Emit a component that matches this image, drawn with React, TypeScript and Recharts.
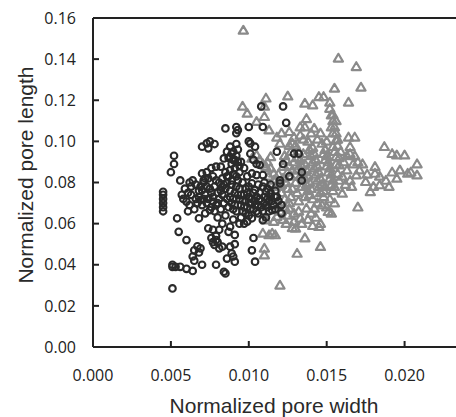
import React from 'react';
import { ScatterChart, Scatter, XAxis, YAxis, ReferenceLine, Label } from 'recharts';

// [normalized width, normalized length]
const circlePores: [number, number][] = [
  [0.0045, 0.0755], [0.0045, 0.074], [0.0045, 0.072], [0.0045, 0.070], [0.0045, 0.068], [0.0045, 0.066],
  [0.0052, 0.093], [0.0052, 0.089], [0.0050, 0.085],
  [0.0051, 0.0285], [0.0051, 0.039], [0.0051, 0.040], [0.0053, 0.039], [0.0056, 0.039], [0.0060, 0.038], [0.0064, 0.037], [0.0070, 0.040],
  [0.0054, 0.0626], [0.0055, 0.056], [0.0060, 0.052],
  [0.0056, 0.081], [0.0057, 0.074], [0.0060, 0.0707], [0.0061, 0.066], [0.0062, 0.080], [0.0063, 0.078],
  [0.0064, 0.044], [0.0065, 0.047], [0.0065, 0.042], [0.0069, 0.048],
  [0.0065, 0.067], [0.0068, 0.0626], [0.0069, 0.0715], [0.0070, 0.0763], [0.0070, 0.0844], [0.0071, 0.081],
  [0.0070, 0.0974], [0.0073, 0.099], [0.0074, 0.0966], [0.0075, 0.100], [0.0078, 0.0987], [0.0073, 0.085],
  [0.0076, 0.087], [0.0073, 0.078], [0.0076, 0.075], [0.0077, 0.0707], [0.0075, 0.0666], [0.0074, 0.0577],
  [0.0077, 0.057], [0.0076, 0.053], [0.0077, 0.051], [0.0078, 0.0496], [0.0079, 0.040], [0.0081, 0.048],
  [0.0083, 0.0488], [0.0084, 0.0366], [0.0085, 0.0358], [0.0086, 0.043], [0.0088, 0.0488], [0.0089, 0.0455],
  [0.0090, 0.044], [0.0091, 0.0415], [0.0088, 0.0585], [0.0087, 0.056], [0.0091, 0.0545], [0.0091, 0.050],
  [0.0085, 0.1063], [0.0092, 0.107], [0.0093, 0.1055], [0.0092, 0.104], [0.0092, 0.0987], [0.0088, 0.0974],
  [0.0086, 0.095], [0.0088, 0.0925], [0.0090, 0.091], [0.0084, 0.0917], [0.0082, 0.0877], [0.0079, 0.0877],
  [0.0100, 0.107], [0.0108, 0.117], [0.0109, 0.107], [0.0100, 0.100], [0.0101, 0.099], [0.0104, 0.0974],
  [0.0101, 0.094], [0.0103, 0.091], [0.0105, 0.089], [0.0107, 0.0885], [0.0102, 0.0844], [0.0105, 0.0836],
  [0.0109, 0.0836], [0.0102, 0.0796], [0.0104, 0.0763], [0.0109, 0.078], [0.0111, 0.0755], [0.0114, 0.073],
  [0.0122, 0.117], [0.0124, 0.109], [0.0118, 0.095], [0.0122, 0.089], [0.0129, 0.094], [0.0132, 0.094],
  [0.0126, 0.083], [0.0134, 0.085], [0.0134, 0.081], [0.0120, 0.081], [0.0120, 0.0796], [0.0121, 0.065],
  [0.0121, 0.069], [0.0118, 0.073],
  [0.0103, 0.053], [0.0102, 0.047], [0.0104, 0.0415], [0.0109, 0.0617], [0.0111, 0.063], [0.0115, 0.0666],
  [0.0099, 0.061], [0.0097, 0.060], [0.0102, 0.0626],
  [0.0066, 0.079], [0.0068, 0.076], [0.0072, 0.074], [0.0074, 0.072], [0.0078, 0.078], [0.0080, 0.075],
  [0.0081, 0.072], [0.0079, 0.069], [0.0082, 0.067], [0.0084, 0.070], [0.0083, 0.074], [0.0085, 0.077],
  [0.0086, 0.080], [0.0087, 0.083], [0.0088, 0.073], [0.0089, 0.070], [0.0090, 0.067], [0.0091, 0.075],
  [0.0092, 0.078], [0.0093, 0.081], [0.0094, 0.072], [0.0095, 0.069], [0.0096, 0.066], [0.0097, 0.074],
  [0.0098, 0.071], [0.0099, 0.068], [0.0100, 0.073], [0.0101, 0.070], [0.0103, 0.067], [0.0104, 0.071],
  [0.0106, 0.069], [0.0107, 0.072], [0.0108, 0.068], [0.0110, 0.070], [0.0112, 0.068], [0.0113, 0.071],
  [0.0116, 0.069], [0.0106, 0.065], [0.0095, 0.063], [0.0085, 0.064], [0.0080, 0.063], [0.0072, 0.065],
  [0.0070, 0.069], [0.0066, 0.072], [0.0063, 0.074], [0.0059, 0.077], [0.0058, 0.072], [0.0062, 0.069],
  [0.0088, 0.086], [0.0089, 0.089], [0.0090, 0.084], [0.0091, 0.087], [0.0092, 0.093], [0.0093, 0.090],
  [0.0094, 0.085], [0.0087, 0.092], [0.0090, 0.095], [0.0086, 0.083],
  [0.0096, 0.080], [0.0098, 0.077], [0.0099, 0.083], [0.0097, 0.087], [0.0095, 0.090], [0.0106, 0.079],
  [0.0110, 0.080], [0.0112, 0.077], [0.0114, 0.079], [0.0117, 0.076], [0.0119, 0.071], [0.0117, 0.067],
  [0.0100, 0.064], [0.0094, 0.060], [0.0090, 0.062], [0.0083, 0.060], [0.0081, 0.057], [0.0079, 0.054],
  [0.0080, 0.051], [0.0079, 0.052], [0.0068, 0.046], [0.0067, 0.049], [0.0071, 0.080], [0.0074, 0.082],
  [0.0077, 0.083], [0.0064, 0.081], [0.0061, 0.075],
  [0.0076, 0.068], [0.0078, 0.066], [0.0080, 0.070], [0.0082, 0.076], [0.0084, 0.079], [0.0086, 0.072],
  [0.0087, 0.068], [0.0088, 0.076], [0.0089, 0.079], [0.0090, 0.072], [0.0091, 0.069], [0.0092, 0.066],
  [0.0093, 0.074], [0.0094, 0.077], [0.0095, 0.074], [0.0096, 0.071], [0.0097, 0.068], [0.0098, 0.065],
  [0.0099, 0.075], [0.0100, 0.078], [0.0101, 0.067], [0.0102, 0.072], [0.0103, 0.075], [0.0104, 0.069],
  [0.0105, 0.073], [0.0105, 0.066], [0.0107, 0.075], [0.0108, 0.071], [0.0109, 0.066], [0.0110, 0.073],
  [0.0111, 0.069], [0.0112, 0.072], [0.0113, 0.066], [0.0114, 0.075], [0.0115, 0.071], [0.0117, 0.073],
  [0.0073, 0.070], [0.0075, 0.077], [0.0071, 0.072], [0.0068, 0.073], [0.0067, 0.070], [0.0069, 0.078],
  [0.0072, 0.082], [0.0083, 0.082], [0.0085, 0.085], [0.0089, 0.081], [0.0092, 0.083], [0.0094, 0.088],
  [0.0091, 0.091], [0.0089, 0.094], [0.0093, 0.096], [0.0083, 0.078], [0.0081, 0.080], [0.0079, 0.081],
  [0.0077, 0.073],
];

const trianglePores: [number, number][] = [
  [0.00965, 0.154], [0.01575, 0.1404], [0.0169, 0.1363], [0.0172, 0.1263], [0.0155, 0.1258], [0.0164, 0.119],
  [0.0125, 0.122], [0.0111, 0.121], [0.0096, 0.117], [0.0099, 0.1136], [0.0110, 0.117], [0.0110, 0.112],
  [0.0105, 0.1096], [0.0113, 0.1055],
  [0.0136, 0.1185], [0.0141, 0.1177], [0.0145, 0.1217], [0.0148, 0.1217], [0.0152, 0.119], [0.0152, 0.116],
  [0.0153, 0.1128], [0.0154, 0.110], [0.0153, 0.107], [0.0137, 0.111], [0.0136, 0.107], [0.0133, 0.107],
  [0.0126, 0.1047], [0.0121, 0.104], [0.0129, 0.102], [0.0140, 0.104], [0.0146, 0.104], [0.0142, 0.1063],
  [0.0154, 0.104], [0.0156, 0.1006], [0.0164, 0.102], [0.0168, 0.102], [0.0165, 0.0974],
  [0.0187, 0.0974], [0.0192, 0.094], [0.0195, 0.0933], [0.0200, 0.0933], [0.0208, 0.089], [0.0208, 0.0836],
  [0.0202, 0.0844], [0.0197, 0.086], [0.0195, 0.082], [0.0188, 0.081], [0.0184, 0.0788], [0.0180, 0.078],
  [0.0178, 0.0755], [0.0175, 0.0804], [0.0181, 0.0877], [0.0181, 0.0844], [0.0173, 0.089], [0.0171, 0.086],
  [0.0169, 0.0836], [0.0167, 0.089], [0.0165, 0.094], [0.0163, 0.086], [0.0165, 0.081], [0.0166, 0.078],
  [0.0170, 0.068], [0.0160, 0.0747], [0.0158, 0.0885], [0.0156, 0.0925], [0.0154, 0.0974], [0.0157, 0.0844],
  [0.0151, 0.0658], [0.0153, 0.065], [0.0146, 0.060], [0.0145, 0.0585], [0.0146, 0.0488], [0.0136, 0.053],
  [0.0131, 0.0455], [0.0120, 0.030], [0.0110, 0.048], [0.0110, 0.0447], [0.0115, 0.0553], [0.0113, 0.0545],
  [0.0117, 0.0545], [0.0109, 0.0553], [0.0111, 0.0617], [0.0116, 0.061], [0.0118, 0.0634], [0.0123, 0.068],
  [0.0126, 0.0674], [0.0129, 0.061], [0.0130, 0.0577], [0.0129, 0.065], [0.0133, 0.0626], [0.0137, 0.0674],
  [0.0140, 0.065], [0.0142, 0.0674],
  [0.0109, 0.089], [0.0111, 0.0877], [0.0116, 0.0844], [0.0102, 0.0917], [0.0105, 0.0933], [0.0114, 0.0925],
  [0.0120, 0.099], [0.0118, 0.102], [0.0122, 0.0877],
  [0.0130, 0.098], [0.0132, 0.095], [0.0133, 0.091], [0.0134, 0.088], [0.0135, 0.085], [0.0136, 0.082],
  [0.0137, 0.079], [0.0138, 0.076], [0.0139, 0.096], [0.0140, 0.093], [0.0141, 0.090], [0.0142, 0.087],
  [0.0143, 0.084], [0.0144, 0.081], [0.0145, 0.078], [0.0146, 0.075], [0.0147, 0.099], [0.0148, 0.094],
  [0.0149, 0.091], [0.0150, 0.088], [0.0151, 0.085], [0.0152, 0.082], [0.0153, 0.079], [0.0154, 0.076],
  [0.0155, 0.095], [0.0150, 0.100], [0.0144, 0.101], [0.0138, 0.100], [0.0131, 0.086], [0.0130, 0.080],
  [0.0128, 0.077], [0.0127, 0.073], [0.0132, 0.071], [0.0136, 0.073], [0.0141, 0.072], [0.0148, 0.073],
  [0.0152, 0.072],
  [0.0119, 0.078], [0.0121, 0.075], [0.0123, 0.072], [0.0124, 0.080], [0.0125, 0.077], [0.0126, 0.070],
  [0.0127, 0.083], [0.0128, 0.086], [0.0124, 0.091], [0.0127, 0.095], [0.0119, 0.084], [0.0116, 0.081],
  [0.0113, 0.083], [0.0125, 0.064], [0.0120, 0.066],
  [0.0158, 0.081], [0.0160, 0.083], [0.0162, 0.079], [0.0161, 0.090], [0.0159, 0.095], [0.0157, 0.098],
  [0.0163, 0.093], [0.0168, 0.093], [0.0170, 0.090], [0.0176, 0.084], [0.0184, 0.083], [0.0192, 0.085],
  [0.0204, 0.085], [0.0190, 0.078],
  [0.0132, 0.066], [0.0138, 0.062], [0.0143, 0.063], [0.0147, 0.069], [0.0155, 0.070], [0.0150, 0.068],
  [0.0131, 0.092], [0.0133, 0.083], [0.0134, 0.078], [0.0135, 0.094], [0.0136, 0.089], [0.0137, 0.086],
  [0.0138, 0.083], [0.0139, 0.080], [0.0140, 0.077], [0.0141, 0.097], [0.0142, 0.094], [0.0143, 0.091],
  [0.0144, 0.088], [0.0145, 0.085], [0.0146, 0.082], [0.0147, 0.079], [0.0148, 0.076], [0.0149, 0.096],
  [0.0150, 0.093], [0.0151, 0.090], [0.0152, 0.087], [0.0153, 0.084], [0.0154, 0.081], [0.0155, 0.078],
  [0.0156, 0.089], [0.0156, 0.104], [0.0155, 0.107], [0.0156, 0.110], [0.0154, 0.113], [0.0157, 0.101],
  [0.0158, 0.092], [0.0135, 0.101], [0.0133, 0.103], [0.0128, 0.099], [0.0131, 0.075], [0.0139, 0.074],
  [0.0144, 0.070], [0.0149, 0.078], [0.0129, 0.090], [0.0126, 0.088], [0.0125, 0.085], [0.0122, 0.082],
  [0.0121, 0.079], [0.0117, 0.078], [0.0114, 0.087], [0.0112, 0.090], [0.0107, 0.091], [0.0123, 0.093],
  [0.0126, 0.098], [0.0124, 0.060], [0.0128, 0.058], [0.0134, 0.060], [0.0141, 0.059], [0.0119, 0.069],
  [0.0122, 0.062],
];

const xTicks = [0, 0.005, 0.01, 0.015, 0.02];
const yTicks = [0, 0.02, 0.04, 0.06, 0.08, 0.1, 0.12, 0.14, 0.16];

const toPoints = (list: [number, number][]) => list.map(([x, y]) => ({ x, y }));

const CircleMark = (props: any) => (
  <circle cx={props.cx} cy={props.cy} r={3.3} fill="none" stroke="#2a2a2a" strokeWidth={2.1} />
);

const TriangleMark = (props: any) => {
  const { cx, cy } = props;
  const pts = `${cx},${cy - 4.5} ${cx + 4.6},${cy + 3.3} ${cx - 4.6},${cy + 3.3}`;
  return <polygon points={pts} fill="none" stroke="#8a8a8a" strokeWidth={2.2} strokeLinejoin="round" />;
};

const tickFont = { fontFamily: '"Open Sans", sans-serif', fontSize: 16, fill: '#222' };
const titleFont = { fontFamily: '"Liberation Sans", Arial, sans-serif', fontSize: 21, fill: '#2a2a2a' };

export default function App() {
  return (
    <div style={{ position: 'absolute', left: 0, top: 0 }}>
      <ScatterChart width={456} height={417} margin={{ top: 18, right: 0, bottom: 0, left: 0 }}>
        <XAxis
          type="number"
          dataKey="x"
          domain={[0, 0.0233]}
          ticks={xTicks}
          allowDataOverflow
          height={70}
          tickFormatter={(v: number) => v.toFixed(3)}
          tick={tickFont}
          tickSize={-6}
          tickMargin={29}
          axisLine={{ stroke: '#222', strokeWidth: 2 }}
          tickLine={{ stroke: '#222', strokeWidth: 2 }}
        >
          <Label
            content={() => (
              <text x={274} y={413} textAnchor="middle" {...titleFont}>
                Normalized pore width
              </text>
            )}
          />
        </XAxis>
        <YAxis
          type="number"
          dataKey="y"
          domain={[0, 0.16]}
          ticks={yTicks}
          width={93}
          tickFormatter={(v: number) => v.toFixed(2)}
          tick={tickFont}
          tickSize={-6}
          tickMargin={23}
          axisLine={{ stroke: '#222', strokeWidth: 2 }}
          tickLine={{ stroke: '#222', strokeWidth: 2 }}
        >
          <Label
            content={() => (
              <text x={25} y={175} textAnchor="middle" dominantBaseline="central" transform="rotate(-90, 25, 175)" {...titleFont}>
                Normalized pore length
              </text>
            )}
          />
        </YAxis>
        <ReferenceLine y={0.16} stroke="#222" strokeWidth={2} />
        <Scatter data={toPoints(trianglePores)} shape={TriangleMark} isAnimationActive={false} />
        <Scatter data={toPoints(circlePores)} shape={CircleMark} isAnimationActive={false} />
      </ScatterChart>
    </div>
  );
}
